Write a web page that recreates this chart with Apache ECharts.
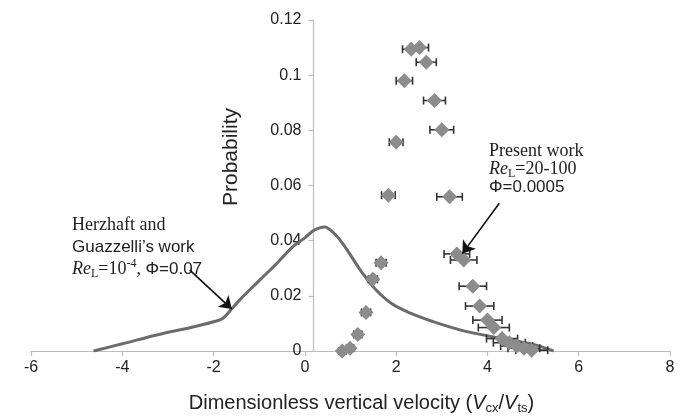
<!DOCTYPE html>
<html><head><meta charset="utf-8">
<script src="https://cdn.jsdelivr.net/npm/echarts@6/dist/echarts.min.js"></script>
<style>html,body{margin:0;padding:0;background:#fff}#c{width:689px;height:420px}</style>
</head><body><div id="c"></div>
<script>
// ---- data ----
const xTicks = [-6, -4, -2, 0, 2, 4, 6, 8];
const yTicks = [0, 0.02, 0.04, 0.06, 0.08, 0.1, 0.12];

// Present work (diamonds with horizontal error bars)
const expX   = [0.82, 0.99, 1.16, 1.34, 1.49, 1.67, 1.83, 2.00, 2.18, 2.33, 2.51, 2.66, 2.84, 3.00, 3.17, 3.33, 3.48, 3.68, 3.83, 4.00, 4.14, 4.32, 4.48, 4.64, 4.80, 4.97];
const expY   = [0.000, 0.001, 0.006, 0.014, 0.026, 0.032, 0.0565, 0.0757, 0.098, 0.1094, 0.110, 0.1047, 0.0908, 0.0802, 0.0559, 0.0352, 0.0330, 0.0235, 0.0163, 0.0112, 0.0085, 0.0045, 0.0030, 0.0018, 0.0010, 0.0003];
const expErr = [0.08, 0.08, 0.09, 0.10, 0.10, 0.11, 0.15, 0.15, 0.18, 0.19, 0.20, 0.22, 0.24, 0.26, 0.28, 0.28, 0.29, 0.30, 0.31, 0.32, 0.34, 0.34, 0.35, 0.35, 0.35, 0.35];

// Herzhaft and Guazzelli's work (curve)
const curveX = [-4.63, -4.0, -3.2, -2.5, -2.0, -1.8, -1.6, -1.4, -1.0, -0.6, -0.25, 0.0, 0.2, 0.43, 0.65, 0.85, 1.05, 1.25, 1.55, 1.9, 2.3, 2.8, 3.5, 4.3, 5.0, 5.45];
const curveY = [0.000, 0.0026, 0.0060, 0.0085, 0.0106, 0.0118, 0.0153, 0.019, 0.0255, 0.032, 0.038, 0.041, 0.0438, 0.0450, 0.0425, 0.0385, 0.0335, 0.0285, 0.0223, 0.0172, 0.0138, 0.0107, 0.0072, 0.0046, 0.0024, 0.000];

// annotation arrows (data coordinates: start -> tip)
const arrowLeft  = [[-2.52, 0.0293], [-1.60, 0.0152]];
const arrowRight = [[4.26, 0.0536], [3.45, 0.0353]];

// ---- chart ----
const chart = echarts.init(document.getElementById('c'), null, {renderer: 'canvas'});
const SANS = 'Liberation Sans, Arial, sans-serif';
const SERIF = 'Liberation Serif, Times New Roman, serif';
const axisGray = '#bdbdbd';
const txt = '#222';
const GRID_LEFT = 31;

const richTokens = {
  ser: {fontFamily: SERIF, fontSize: 18, color: txt, lineHeight: 22},
  re:  {fontFamily: SERIF, fontSize: 18, fontStyle: 'italic', color: txt, lineHeight: 22},
  sub: {fontFamily: SERIF, fontSize: 12, color: txt, lineHeight: 12, verticalAlign: 'bottom'},
  sup: {fontFamily: SERIF, fontSize: 12, color: txt, lineHeight: 12, verticalAlign: 'top'},
  san: {fontFamily: SANS, fontSize: 17, color: txt, lineHeight: 22}
};
function lineText(x, y, text) {
  return {type: 'text', x: x, y: y, silent: true,
    style: {text: text, rich: richTokens, fill: txt, verticalAlign: 'middle', align: 'left',
      fontFamily: SANS, fontSize: 17}};
}

chart.setOption({
  animation: false,
  backgroundColor: '#fff',
  grid: {left: GRID_LEFT, right: 19, top: 20, bottom: 60, containLabel: false},
  xAxis: {
    type: 'value', min: xTicks[0], max: xTicks[xTicks.length - 1], interval: xTicks[1] - xTicks[0],
    axisLine: {show: true, onZero: false, lineStyle: {color: axisGray, width: 1.2}},
    axisTick: {show: true, length: 5, lineStyle: {color: axisGray, width: 1.2}},
    splitLine: {show: false},
    axisLabel: {color: txt, fontFamily: SANS, fontSize: 16, margin: 9},
    name: 'Dimensionless vertical velocity ({i|V}{s|cx}/{i|V}{s|ts})',
    nameLocation: 'middle', nameGap: 40,
    nameTextStyle: {color: txt, fontFamily: SANS, fontSize: 20, padding: [0, 0, 0, 22],
      rich: {i: {fontFamily: SANS, fontSize: 20, fontStyle: 'italic', color: txt, lineHeight: 24},
             s: {fontFamily: SANS, fontSize: 13, color: txt, lineHeight: 13, verticalAlign: 'bottom'}}}
  },
  yAxis: {
    type: 'value', min: yTicks[0], max: yTicks[yTicks.length - 1], interval: yTicks[1] - yTicks[0],
    axisLine: {show: true, onZero: false, lineStyle: {color: axisGray, width: 1.2}},
    axisTick: {show: true, length: 5, lineStyle: {color: axisGray, width: 1.2}},
    splitLine: {show: false},
    axisLabel: {color: txt, fontFamily: SANS, fontSize: 16, margin: 12}
  },
  series: [
    {
      type: 'line', data: curveX.map((x, i) => [x, curveY[i]]), smooth: 0.35,
      showSymbol: false, symbol: 'none', z: 2,
      lineStyle: {color: '#6b6b6b', width: 3},
      markLine: {
        silent: true, symbol: ['none', 'arrow'], symbolSize: 12, precision: 4,
        label: {show: false},
        lineStyle: {color: '#111', width: 1.6, type: 'solid'},
        data: [
          [{coord: arrowLeft[0]}, {coord: arrowLeft[1]}],
          [{coord: arrowRight[0]}, {coord: arrowRight[1]}]
        ]
      }
    },
    {
      type: 'custom', z: 3,
      dimensions: ['x', 'y', 'err'],
      encode: {x: 0, y: 1},
      data: expX.map((x, i) => [x, expY[i], expErr[i]]),
      renderItem: function (params, api) {
        const x = api.value(0), y = api.value(1), e = api.value(2);
        const p1 = api.coord([x - e, y]), p2 = api.coord([x + e, y]);
        const h = 4;
        const st = {stroke: '#333', lineWidth: 1.6};
        return {type: 'group', children: [
          {type: 'line', shape: {x1: p1[0], y1: p1[1], x2: p2[0], y2: p2[1]}, style: st},
          {type: 'line', shape: {x1: p1[0], y1: p1[1] - h, x2: p1[0], y2: p1[1] + h}, style: st},
          {type: 'line', shape: {x1: p2[0], y1: p2[1] - h, x2: p2[0], y2: p2[1] + h}, style: st}
        ]};
      }
    },
    {
      type: 'scatter', z: 4, data: expX.map((x, i) => [x, expY[i]]),
      symbol: 'diamond', symbolSize: [15, 15],
      itemStyle: {color: '#8c8c8c', opacity: 1}
    }
  ],
  graphic: [
    {type: 'text', x: 231, y: 157, rotation: Math.PI / 2, silent: true,
      style: {text: 'Probability', fill: txt, fontFamily: SANS, fontSize: 21, align: 'center', verticalAlign: 'middle'}},
    lineText(72, 225, '{ser|Herzhaft and}'),
    lineText(72, 247, '{san|Guazzelli’s work}'),
    lineText(72, 269, '{re|Re}{sub|L}{ser|=10}{sup|-4}{ser|, }{san|Φ=0.07}'),
    lineText(489, 151, '{ser|Present work}'),
    lineText(489, 169, '{re|Re}{sub|L}{ser|=20-100}'),
    lineText(489, 187, '{san|Φ=0.0005}')
  ]
});

// place the y axis where x = 0, using the library's own x scale
const zeroPx = chart.convertToPixel({xAxisIndex: 0}, 0);
chart.setOption({yAxis: {offset: -(zeroPx - GRID_LEFT)}});
</script>
</body></html>
